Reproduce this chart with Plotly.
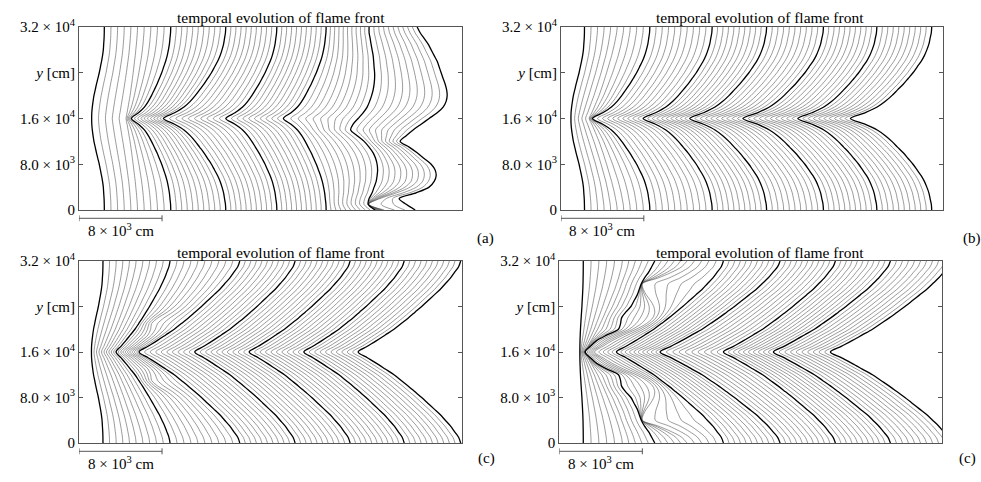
import plotly.graph_objects as go

# y positions (10^3 cm) at which each flame front is sampled
Y = [0, 1, 2, 3, 4, 5, 6, 7, 8, 9, 10, 11, 12, 13, 14, 15, 16,
     17, 18, 19, 20, 21, 22, 23, 24, 25, 26, 27, 28, 29, 30, 31, 32]

# front shapes, by distance from the centre line (0..16):
# fraction of the way from the centre point to the wall point
BUMP = [0, .01, .05, .11, .18, .28, .38, .49, .60, .69, .78, .86, .92, .95, .98, .995, 1]
ARM_B = [0, .18, .33, .43, .51, .58, .65, .71, .77, .82, .87, .91, .94, .965, .98, .995, 1]
ARM_C = [0, .09, .18, .265, .35, .42, .49, .555, .62, .68, .74, .80, .85, .90, .94, .98, 1]
SHAPES = {"bump": BUMP, "b": ARM_B, "c": ARM_C}

N_FRONTS = 61          # fronts 0, 10, 20, ... are drawn bold

# ---- panel (a): key fronts (index, centre x, wall x, shape), x in 10^3 cm
A_KEYS = [0, 5, 10, 20, 30, 40]
A_CENTER = [1.22, 4.53, 5.05, 8.13, 14.14, 19.69]
A_WALL = [2.44, 5.64, 8.84, 14.14, 19.06, 23.81]
A_SHAPE = ["bump", "c", "b", "b", "b", "b"]
A_F50 = [28.53, 27.86, 27.95, 28.24, 28.43, 28.63, 28.72, 28.77, 28.72, 28.58, 28.34,
         27.95, 27.47, 26.80, 26.17, 26.41, 26.89, 27.37, 27.76, 28.00, 28.19, 28.34,
         28.43, 28.48, 28.48, 28.43, 28.39, 28.34, 28.24, 28.14, 28.05, 27.95, 27.95]
A_F57 = [29.40, 27.90, 29.00, 30.60, 31.90, 32.54, 32.70, 32.65, 32.37, 31.85, 31.31,
         30.65, 29.90, 30.10, 30.38, 31.00, 31.68, 32.37, 32.88, 33.16, 33.29, 33.30,
         33.23, 33.10, 32.97, 32.82, 32.67, 32.46, 32.22, 31.99, 31.69, 31.39, 31.19]
A_F60 = [32.39, 31.52, 30.84, 32.48, 33.73, 34.22, 34.41, 34.31, 33.93, 33.25, 32.58,
         31.81, 30.94, 31.52, 32.19, 32.96, 33.73, 34.51, 35.08, 35.37, 35.47, 35.42,
         35.28, 35.08, 34.89, 34.70, 34.51, 34.22, 33.93, 33.64, 33.25, 32.87, 32.58]

# ---- panel (b)
B_KEYS = [0, 5, 10, 20, 30, 40, 50, 60]
B_CENTER = [0.96, 2.73, 3.04, 7.93, 12.43, 17.57, 22.87, 27.95]
B_WALL = [2.27, 5.43, 8.58, 14.60, 19.86, 25.35, 30.51, 35.81]
B_SHAPE = ["bump", "c", "b", "b", "b", "b", "b", "b"]

# ---- panel (c)
C_KEYS = [0, 5, 10, 20, 30, 40, 50, 60]
C_CENTER = [1.20, 2.41, 3.57, 5.78, 11.15, 16.39, 21.66, 26.89]
C_WALL = [2.31, 5.50, 8.77, 15.49, 20.82, 26.12, 31.33, 36.77]
C_SHAPE = ["bump", "c", "c", "c", "c", "c", "c", "c"]
C_F15 = [12.13, 11.98, 11.68, 11.38, 11.01, 10.64, 10.19, 9.74, 9.20, 8.50, 7.60,
         7.00, 6.90, 6.65, 6.02, 5.35, 4.68, 5.35, 6.02, 6.65, 6.90, 7.00, 7.60,
         8.50, 9.20, 9.74, 10.19, 10.64, 11.01, 11.38, 11.68, 11.98, 12.13]

# ---- panel (c), right: wrinkled fronts with side cells
D_KEYS = [0, 5, 20, 30, 40, 50, 60]
D_CENTER = [1.98, 2.41, 5.50, 9.71, 15.81, 20.63, 26.12]
D_WALL = [2.31, 6.07, 15.81, 21.27, 26.60, 31.90, 37.70]
D_SHAPE = ["bump", "c", "c", "c", "c", "c", "c"]
D_F10 = [9.20, 8.90, 8.60, 8.20, 7.90, 7.70, 7.50, 7.20, 6.90, 6.40, 6.00, 5.90, 5.70,
         4.60, 3.60, 3.00, 2.50, 3.00, 3.60, 4.60, 5.70, 5.90, 6.00, 6.40, 6.90, 7.20,
         7.50, 7.70, 7.90, 8.20, 8.60, 8.90, 9.20]
D_F15 = [12.30, 11.80, 10.80, 9.50, 8.00, 8.10, 8.40, 8.80, 9.10, 9.20, 9.00, 8.40,
         7.40, 6.20, 5.10, 4.20, 3.40, 4.20, 5.10, 6.20, 7.40, 8.40, 9.00, 9.20, 9.10,
         8.80, 8.40, 8.10, 8.00, 9.50, 10.80, 11.80, 12.30]

X_RANGE = [0, 36.9]
SCALE_LEN = 8   # 8 x 10^3 cm


def key_fronts(keys, centers, walls, shapes, extra=None):
    out = {}
    for k, c, w, s in zip(keys, centers, walls, shapes):
        prof = SHAPES[s]
        out[k] = [c + (w - c) * prof[abs(y - 16)] for y in Y]
    if extra:
        out.update(extra)
    return out


def all_fronts(kf):
    ks = sorted(kf)
    fronts = []
    for i in range(N_FRONTS):
        for k0, k1 in zip(ks[:-1], ks[1:]):
            if k0 <= i <= k1:
                break
        t = (i - k0) / (k1 - k0)
        fronts.append([(1 - t) * a + t * b for a, b in zip(kf[k0], kf[k1])])
    return fronts


panels = [
    key_fronts(A_KEYS, A_CENTER, A_WALL, A_SHAPE, {50: A_F50, 57: A_F57, 60: A_F60}),
    key_fronts(B_KEYS, B_CENTER, B_WALL, B_SHAPE),
    key_fronts(C_KEYS, C_CENTER, C_WALL, C_SHAPE, {15: C_F15}),
    key_fronts(D_KEYS, D_CENTER, D_WALL, D_SHAPE, {10: D_F10, 15: D_F15}),
]

W, H = 981, 482
# plot boxes in pixels: left, right, top, bottom
boxes = [(79, 462, 27, 210), (561, 943, 27, 210), (79, 462, 261, 443), (559.3, 942.3, 261, 443)]
letters = ["(a)", "(b)", "(c)", "(c)"]
letter_pos = [(485, 238), (972, 238), (486, 458), (967, 458)]
title_x = [281, 760, 281, 760]

FONT = "Liberation Serif"
fig = go.Figure()
layout = dict(width=W, height=H, margin=dict(l=0, r=0, t=0, b=0, autoexpand=False),
              paper_bgcolor="white", plot_bgcolor="white", showlegend=False,
              font=dict(family=FONT, size=15, color="black"))
shapes, annos = [], []

for p, (kf, box) in enumerate(zip(panels, boxes)):
    fronts = all_fronts(kf)
    sfx = "" if p == 0 else str(p + 1)
    xa, ya = "x" + sfx, "y" + sfx
    for bold in (False, True):
        xs, ys = [], []
        for i, f in enumerate(fronts):
            if (i % 10 == 0) != bold:
                continue
            xs += f + [None]
            ys += Y + [None]
        fig.add_trace(go.Scatter(
            x=xs, y=ys, mode="lines", xaxis=xa, yaxis=ya, hoverinfo="skip",
            line=dict(color="black" if bold else "#484848", width=1.3 if bold else 0.55,
                      shape="spline", smoothing=0.9)))
    l, r, t, b = box
    layout["xaxis" + sfx] = dict(domain=[l / W, r / W], range=X_RANGE, showgrid=False,
                                 zeroline=False, showticklabels=False, ticks="",
                                 showline=True, mirror=True, linecolor="#555", linewidth=1,
                                 anchor=ya, automargin=False, fixedrange=True)
    layout["yaxis" + sfx] = dict(domain=[1 - b / H, 1 - t / H], range=[0, 32], showgrid=False,
                                 zeroline=False, showline=True, mirror="ticks",
                                 linecolor="#555", linewidth=1, ticks="inside", ticklen=4,
                                 tickcolor="#555", anchor=xa, automargin=False,
                                 tickvals=[0, 8, 16, 24, 32],
                                 ticktext=["0", "8.0 × 10<sup>3</sup>", "1.6 × 10<sup>4</sup>",
                                           "<i>y</i> [cm]", "3.2 × 10<sup>4</sup>"],
                                 tickfont=dict(family=FONT, size=15), fixedrange=True)
    # scale bar under the panel
    yb = 1 - (b + 8.3) / H
    shapes.append(dict(type="line", xref=xa, yref="paper", x0=0, x1=SCALE_LEN, y0=yb, y1=yb,
                       line=dict(color="#555", width=1)))
    for xe in (0, SCALE_LEN):
        shapes.append(dict(type="line", xref=xa, yref="paper", x0=xe, x1=xe,
                           y0=yb - 3 / H, y1=yb + 3 / H, line=dict(color="#555", width=1)))
    annos.append(dict(x=SCALE_LEN / 2, y=1 - (b + 20) / H, xref=xa, yref="paper",
                      xanchor="center", yanchor="middle",
                      text="8 × 10<sup>3</sup> cm", showarrow=False,
                      font=dict(family=FONT, size=15)))
    annos.append(dict(x=title_x[p] / W, y=1 - (t - 9) / H, xref="paper", yref="paper",
                      xanchor="center", yanchor="middle",
                      text="temporal evolution of flame front", showarrow=False,
                      font=dict(family=FONT, size=15.5)))
    lx, ly = letter_pos[p]
    annos.append(dict(x=lx / W, y=1 - ly / H, xref="paper", yref="paper", text=letters[p],
                      xanchor="center", yanchor="middle",
                      showarrow=False, font=dict(family=FONT, size=15)))

layout["shapes"] = shapes
layout["annotations"] = annos
fig.update_layout(**layout)
fig.write_html("out.html", config={"displayModeBar": False},
               post_script="document.body.style.margin='0';")
